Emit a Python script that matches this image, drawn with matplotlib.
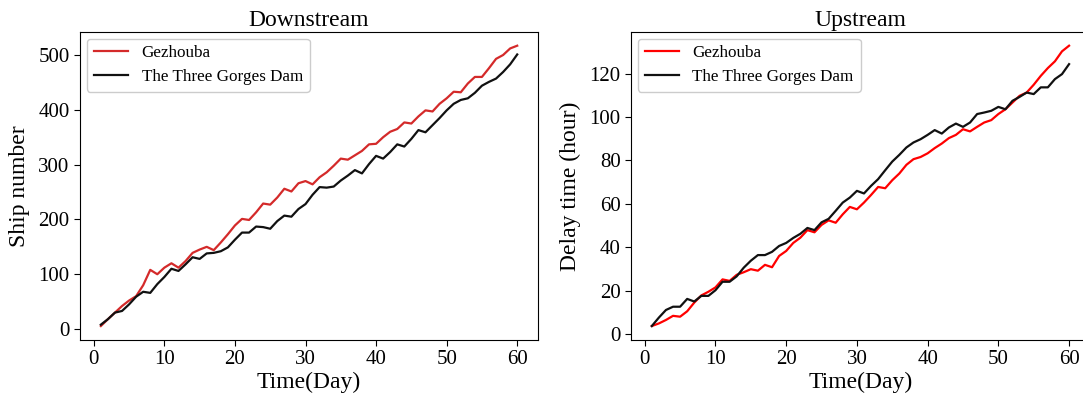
import matplotlib
matplotlib.use("Agg")
import matplotlib.pyplot as plt

plt.rcParams['font.family'] = ['Liberation Serif', 'DejaVu Serif']
plt.rcParams['mathtext.fontset'] = 'stix'

days = list(range(1, 61))

# Downstream: cumulative ship number
down_gezhouba = [5.5, 18, 30, 42, 52, 60, 80, 108, 100, 112,
                 120, 112, 124, 139, 145, 150, 144, 158, 173, 189,
                 201, 199, 213, 229, 227, 240, 256, 251, 266, 270,
                 264, 277, 286, 298, 311, 309, 317, 325, 337, 338,
                 350, 360, 365, 377, 375, 388, 399, 397, 411, 421,
                 433, 432, 448, 460, 460, 476, 493, 500, 512, 517]
down_threegorges = [8, 18, 30, 33, 45, 59, 68, 66, 82, 95,
                    110, 106, 118, 131, 128, 138, 139, 142, 149, 163,
                    176, 176, 187, 186, 183, 197, 207, 205, 219, 228,
                    245, 259, 258, 260, 271, 280, 290, 284, 301, 316,
                    311, 323, 337, 333, 347, 363, 359, 372, 385, 399,
                    411, 418, 421, 431, 444, 451, 457, 469, 483, 501]

# Upstream: cumulative delay time (hour)
up_gezhouba = [3.7, 4.9, 6.5, 8.4, 8.0, 10.5, 14.5, 17.8, 19.5, 21.5,
               25.2, 24.5, 27.3, 28.5, 29.9, 29.2, 31.9, 30.8, 36.0, 38.3,
               42.0, 44.4, 47.9, 46.9, 50.3, 52.4, 51.3, 55.2, 58.6, 57.5,
               60.6, 64.1, 67.8, 67.2, 70.9, 74.0, 78.0, 80.6, 81.6, 83.3,
               85.7, 87.8, 90.3, 91.8, 94.4, 93.4, 95.5, 97.5, 98.6, 101.4,
               103.6, 106.7, 109.8, 111.3, 114.9, 119.0, 122.6, 125.7, 130.3, 132.9]
up_threegorges = [3.7, 7.6, 11.1, 12.6, 12.6, 16.2, 15.0, 17.6, 17.6, 20.2,
                  24.1, 24.1, 26.6, 30.6, 33.8, 36.4, 36.4, 37.9, 40.6, 42.0,
                  44.3, 46.2, 48.9, 47.9, 51.5, 53.1, 56.8, 60.6, 62.9, 66.0,
                  64.8, 68.3, 71.4, 75.5, 79.5, 82.6, 86.0, 88.3, 89.8, 91.8,
                  94.0, 92.4, 95.2, 97.0, 95.5, 97.5, 101.4, 102.1, 102.9, 104.7,
                  103.6, 107.5, 109.3, 111.3, 110.6, 113.7, 113.7, 117.5, 119.8, 124.4]

series_labels = ["Gezhouba", "The Three Gorges Dam"]

fig = plt.figure(figsize=(10.83, 4.01), dpi=100)
ax1 = fig.add_axes([0.0739, 0.152, 0.4229, 0.769])
ax2 = fig.add_axes([0.5826, 0.152, 0.4238, 0.769])

ax1.plot(days, down_gezhouba, color='#d42a2a', lw=1.6, label=series_labels[0])
ax1.plot(days, down_threegorges, color='#111111', lw=1.6, label=series_labels[1])
ax1.set_title("Downstream", fontsize=17, pad=4)
ax1.set_xlabel("Time(Day)", fontsize=17, labelpad=2)
ax1.set_ylabel("Ship number", fontsize=17, labelpad=6)
ax1.set_yticks([0, 100, 200, 300, 400, 500])

ax2.plot(days, up_gezhouba, color='#ff0000', lw=1.6, label=series_labels[0])
ax2.plot(days, up_threegorges, color='#111111', lw=1.6, label=series_labels[1])
ax2.set_title("Upstream", fontsize=17, pad=4)
ax2.set_xlabel("Time(Day)", fontsize=17, labelpad=2)
ax2.set_ylabel("Delay time (hour)", fontsize=17, labelpad=6)
ax2.set_yticks([0, 20, 40, 60, 80, 100, 120])

for ax in (ax1, ax2):
    ax.set_xticks([0, 10, 20, 30, 40, 50, 60])
    ax.tick_params(labelsize=15, length=4)
    ax.legend(loc='upper left', fontsize=12.3, handlelength=2.0,
              borderaxespad=0.4, labelspacing=0.45, framealpha=1.0)

fig.savefig("out.png", dpi=100)
